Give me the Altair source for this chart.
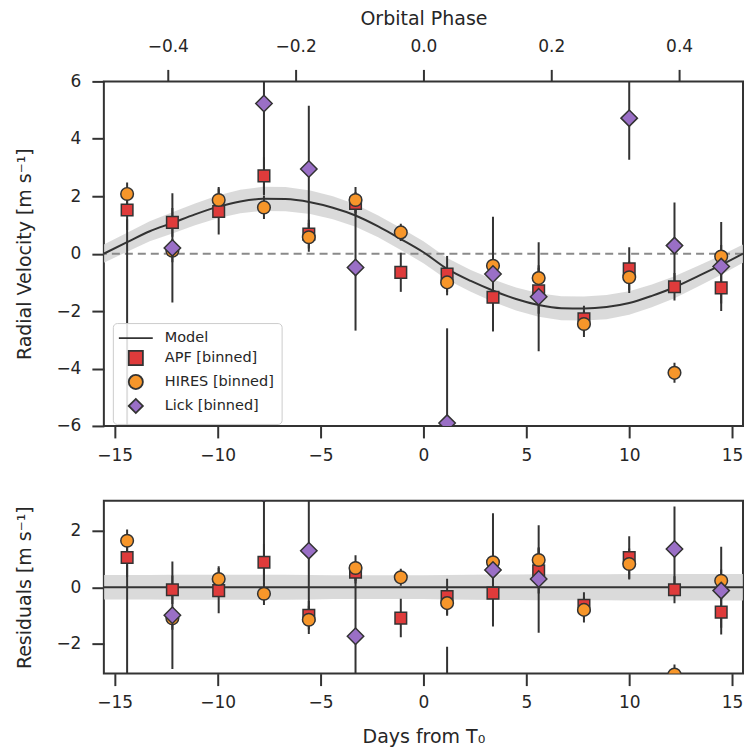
import altair as alt
import pandas as pd

# ---------------- data ----------------
bin_days = [-14.40, -12.20, -9.95, -7.75, -5.57, -3.30, -1.10, 1.15, 3.38, 5.60, 7.80, 10.00, 12.20, 14.47]

apf_rv = [1.52, 1.09, 1.47, 2.71, 0.68, 1.75, -0.65, -0.71, -1.52, -1.29, -2.27, -0.53, -1.15, -1.19]
apf_err = [0.70, 0.50, 0.80, 0.65, 0.50, 0.40, 0.68, 0.63, 1.00, 0.80, 0.46, 0.75, 0.48, 0.55]
apf_res = [1.05, -0.09, -0.12, 0.88, -0.99, 0.53, -1.09, -0.33, -0.21, 0.58, -0.64, 1.05, -0.09, -0.88]

hires_rv = [2.08, 0.10, 1.87, 1.61, 0.57, 1.87, 0.74, -1.00, -0.42, -0.85, -2.45, -0.82, -4.15, -0.10]
hires_err = [0.40, 0.40, 0.45, 0.40, 0.50, 0.45, 0.30, 0.45, 0.40, 0.45, 0.45, 0.55, 0.35, 0.40]
hires_res = [1.64, -1.10, 0.29, -0.23, -1.15, 0.68, 0.35, -0.56, 0.88, 0.96, -0.80, 0.82, -3.08, 0.23]

lick_days = [-14.40, -12.20, -7.75, -5.57, -3.30, 1.15, 3.38, 5.60, 10.00, 12.20, 14.47]
lick_rv = [-7.50, 0.20, 5.23, 2.95, -0.48, -5.90, -0.71, -1.50, 4.72, 0.28, -0.45]
lick_err = [8.70, 1.90, 3.20, 2.20, 2.20, 3.30, 2.00, 1.90, 1.45, 1.50, 1.55]
lick_res = [-7.90, -0.99, 3.30, 1.29, -1.73, -5.40, 0.61, 0.29, 6.50, 1.35, -0.12]

model_days = [-15.53, -14.4, -13.3, -12.2, -11.1, -10.0, -8.9, -7.8, -6.7, -5.5, -4.4, -3.3, -2.2,
              -1.1, 0.0, 1.15, 2.3, 3.4, 4.5, 5.6, 6.7, 7.8, 8.9, 10.0, 11.1, 12.2, 13.3, 14.4, 15.53]
model_rv = [0.0, 0.40, 0.78, 1.07, 1.37, 1.63, 1.82, 1.91, 1.90, 1.79, 1.60, 1.33, 0.95,
            0.51, 0.05, -0.53, -0.95, -1.29, -1.58, -1.79, -1.90, -1.91, -1.86, -1.72, -1.47,
            -1.17, -0.80, -0.42, 0.0]
model_halfwidth = [0.32, 0.33, 0.35, 0.37, 0.38, 0.40, 0.41, 0.42, 0.42, 0.41, 0.40, 0.39, 0.38,
                   0.38, 0.38, 0.38, 0.38, 0.39, 0.40, 0.41, 0.42, 0.42, 0.42, 0.41, 0.40,
                   0.38, 0.36, 0.34, 0.32]
res_halfwidth = [0.43, 0.43, 0.43, 0.44, 0.44, 0.44, 0.44, 0.44, 0.44, 0.43, 0.42, 0.42, 0.42,
                 0.42, 0.42, 0.43, 0.44, 0.45, 0.45, 0.46, 0.46, 0.46, 0.46, 0.47, 0.47,
                 0.47, 0.47, 0.47, 0.47]

phase_ticks = [-0.4, -0.2, 0.0, 0.2, 0.4]
day_ticks = [-15, -10, -5, 0, 5, 10, 15]

labels = ["Model", "APF [binned]", "HIRES [binned]", "Lick [binned]"]
colors = ["#333333", "#df3b3b", "#f7962a", "#9a6fc6"]
shapes = ["M-2.4,0L2.4,0", "square", "circle", "diamond"]
marker_sizes = {"APF [binned]": 135, "HIRES [binned]": 160, "Lick [binned]": 270}

# ---------------- tables ----------------
rows = []
for inst, dd, rv, er, rs in [
    ("APF [binned]", bin_days, apf_rv, apf_err, apf_res),
    ("HIRES [binned]", bin_days, hires_rv, hires_err, hires_res),
    ("Lick [binned]", lick_days, lick_rv, lick_err, lick_res),
]:
    for d, v, e, r in zip(dd, rv, er, rs):
        rows.append({"inst": inst, "day": d, "rv": v, "err": e, "res": r, "sz": marker_sizes[inst]})
pts = pd.DataFrame(rows)

model = pd.DataFrame({"day": model_days, "rv": model_rv, "hw": model_halfwidth, "rhw": res_halfwidth})

FONT = "DejaVu Sans"
DARK = "#333333"
TXT = "#262626"
XDOM = [-15.53, 15.53]

xs = alt.Scale(domain=XDOM, nice=False, zero=False)
minus_int = "replace(format(datum.value, 'd'), '-', '\u2212')"

top_x_axis = alt.Axis(values=day_ticks, labelExpr=minus_int, title=None, labelPadding=10)
bot_x_axis = alt.Axis(values=day_ticks, labelExpr=minus_int, title="Days from T\u2080",
                      labelPadding=9, titlePadding=17)

inst_scale_color = alt.Scale(domain=labels, range=colors)
inst_scale_shape = alt.Scale(domain=labels, range=shapes)


def panel(ycol, ydom, yticks, ytitle, band_col, zero_dash, xaxis, with_legend):
    ys = alt.Scale(domain=ydom, nice=False, zero=False)
    yaxis = alt.Axis(values=yticks, labelExpr=minus_int, title=ytitle, labelPadding=11, titlePadding=21)
    base_m = alt.Chart(model)
    center = "datum.rv" if ycol == "rv" else "0"
    band = base_m.mark_area(color="#d4d4d4", opacity=0.85, clip=True).transform_calculate(
        lo=f"{center} - datum.{band_col}",
        hi=f"{center} + datum.{band_col}",
    ).encode(
        x=alt.X("day:Q", scale=xs, axis=xaxis),
        y=alt.Y("lo:Q", scale=ys, axis=yaxis),
        y2="hi:Q",
    )
    zero_props = dict(color="#8a8a8a", strokeWidth=2, strokeDash=[8, 5]) if zero_dash else dict(color=DARK, strokeWidth=2)
    zero = alt.Chart(pd.DataFrame({"z": [0]})).mark_rule(**zero_props).encode(y=alt.Y("z:Q", scale=ys))
    layers = [band, zero]
    if ycol == "rv":
        line = base_m.mark_line(color=DARK, strokeWidth=2, interpolate="monotone", clip=True).encode(
            x=alt.X("day:Q", scale=xs), y=alt.Y("rv:Q", scale=ys)
        )
        layers.append(line)
    base_p = alt.Chart(pts)
    ebar = base_p.mark_rule(color=DARK, strokeWidth=2, clip=True).transform_calculate(
        lo=f"datum.{ycol} - datum.err", hi=f"datum.{ycol} + datum.err"
    ).encode(x=alt.X("day:Q", scale=xs), y=alt.Y("lo:Q", scale=ys), y2="hi:Q")
    layers.append(ebar)
    if with_legend:
        leg = alt.Legend(
            title=None, orient="none", legendX=9, legendY=242,
            fillColor="rgba(255,255,255,0.85)", strokeColor="#cccccc", cornerRadius=4,
            padding=7, symbolOffset=8, labelOffset=21, rowPadding=2,
            labelFont=FONT, labelFontSize=14.5, labelColor=TXT,
            symbolSize=200, symbolStrokeColor=DARK, symbolStrokeWidth=1.8,
        )
    else:
        leg = None
    marks = base_p.mark_point(filled=True, stroke=DARK, strokeWidth=1.5, opacity=1, clip=True).encode(
        x=alt.X("day:Q", scale=xs),
        y=alt.Y(f"{ycol}:Q", scale=ys),
        color=alt.Color("inst:N", scale=inst_scale_color, legend=leg),
        shape=alt.Shape("inst:N", scale=inst_scale_shape, legend=leg),
        size=alt.Size("sz:Q", scale=None),
    )
    layers.append(marks)
    return layers


top_main = alt.layer(*panel("rv", [-6, 6], [-6, -4, -2, 0, 2, 4, 6], "Radial Velocity [m s\u207b\u00b9]",
                            "hw", True, top_x_axis, True))

phase_df = pd.DataFrame({"phase": phase_ticks})
phase_layer = alt.Chart(phase_df).mark_point(opacity=0).encode(
    x=alt.X("phase:Q", scale=alt.Scale(domain=[-0.5, 0.5], nice=False, zero=False),
            axis=alt.Axis(orient="top", values=phase_ticks,
                          labelExpr="replace(format(datum.value, '.1f'), '-', '\u2212')",
                          title="Orbital Phase", labelPadding=14, titlePadding=9)),
    y=alt.value(0),
)

top = alt.layer(top_main, phase_layer).resolve_scale(x="independent").properties(width=640, height=345)

bottom = alt.layer(*panel("res", [-3.05, 3.05], [-2, 0, 2], "Residuals [m s\u207b\u00b9]",
                          "rhw", False, bot_x_axis, False)).properties(width=640, height=173)

chart = alt.vconcat(top, bottom, spacing=75, bounds="flush").configure_view(
    stroke=DARK, strokeWidth=2
).configure_axis(
    labelFont=FONT, labelFontSize=17, labelColor=TXT,
    titleFont=FONT, titleFontSize=19, titleFontWeight="normal", titleColor=TXT,
    tickColor=DARK, tickWidth=2, tickSize=12, domain=False, grid=False,
).properties(padding={"left": 14, "top": 8, "right": 5, "bottom": 5}, background="white")

chart.save("out.html", embed_options={"renderer": "svg", "actions": False})
